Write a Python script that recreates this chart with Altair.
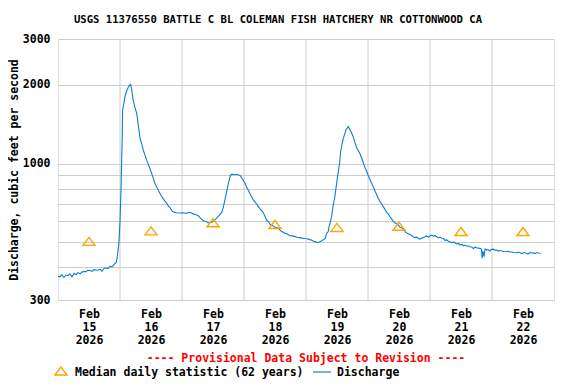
import altair as alt
import pandas as pd

TITLE = "USGS 11376550 BATTLE C BL COLEMAN FISH HATCHERY NR COTTONWOOD CA"
Y_TITLE = "Discharge, cubic feet per second"
PROVISIONAL = "---- Provisional Data Subject to Revision ----"
LEG_MEDIAN = "Median daily statistic (62 years)"
LEG_Q = "Discharge"

# hours since 2026-02-15 00:00
hours = [0.0, 0.8, 1.5, 2.3, 3.1, 3.9, 4.6, 5.4, 6.2, 7.0, 7.7, 8.5, 9.3, 10.1, 10.8, 11.6,
         12.4, 13.2, 13.9, 14.7, 15.5, 16.3, 17.0, 17.8, 18.6, 19.4, 20.1, 20.9, 21.7, 22.5,
         22.8, 23.2, 23.6, 24.0, 24.4, 24.7, 24.9, 25.0, 25.5, 25.9, 26.6, 27.2, 27.9, 28.1,
         28.5, 29.1, 29.8, 30.5, 31.1, 31.7, 32.4, 33.0, 33.7, 34.3, 35.0, 35.6, 36.3, 36.9,
         37.5, 38.2, 38.8, 39.5, 40.1, 40.8, 41.4, 42.1, 42.7, 43.4, 44.0, 44.6, 45.3, 45.9,
         47.2, 48.5, 49.5, 50.3, 51.1, 51.9, 52.6, 53.4, 54.2, 55.0, 56.1, 57.3, 58.1, 58.8,
         59.6, 60.0, 60.8, 61.4, 62.3, 63.4, 63.9, 64.3, 64.8, 65.3, 65.8, 66.3, 66.8, 67.4,
         68.1, 68.9, 69.7, 70.5, 71.0, 71.6, 72.4, 73.0, 73.7, 74.3, 75.0, 75.6, 76.3, 76.9,
         77.5, 78.2, 78.8, 79.5, 80.1, 80.8, 81.4, 82.1, 82.7, 83.3, 84.0, 84.6, 85.3, 85.9,
         86.6, 87.2, 87.9, 88.6, 89.8, 90.6, 91.0, 91.7, 92.5, 93.0, 93.7, 94.5, 95.6, 96.4,
         97.5, 98.3, 99.1, 99.5, 100.3, 100.8, 101.4, 102.1, 102.6, 103.4, 104.0, 104.6, 104.9,
         105.5, 105.9, 106.6, 107.0, 107.6, 108.0, 108.5, 109.0, 109.4, 109.9, 110.4, 111.0,
         111.5, 112.0, 112.4, 112.8, 113.3, 113.8, 114.3, 115.0, 115.6, 116.3, 116.9, 117.6,
         118.2, 118.8, 119.5, 120.1, 120.8, 121.4, 122.1, 122.7, 123.4, 124.0, 124.6, 125.3,
         125.9, 126.6, 127.2, 127.9, 128.5, 129.2, 129.8, 130.5, 131.1, 131.7, 132.4, 133.0,
         133.7, 134.3, 135.0, 135.6, 136.3, 136.9, 137.5, 138.2, 138.8, 139.5, 140.1, 140.8,
         141.4, 142.1, 142.7, 143.4, 144.0, 144.7, 145.3, 145.9, 146.6, 147.2, 147.9, 148.5,
         149.2, 149.8, 150.5, 151.1, 151.7, 152.5, 153.3, 154.3, 155.0, 155.6, 156.4, 156.9,
         157.5, 158.3, 158.8, 159.5, 160.3, 160.8, 161.4, 162.1, 162.7, 163.4, 163.9, 164.2,
         164.5, 164.9, 165.3, 165.9, 166.5, 167.2, 167.6, 168.4, 169.0, 169.8, 170.3, 171.1,
         171.9, 172.6, 173.7, 174.2, 175.0, 175.7, 176.5, 177.6, 178.1, 178.8, 179.6, 180.4,
         181.4, 181.9, 182.7, 183.5, 184.0, 184.6, 185.4, 185.9, 186.6, 186.8]

cfs = [370, 368, 375, 366, 374, 372, 378, 368, 380, 375, 382, 378, 384, 386, 385, 390,
       389, 386, 392, 391, 390, 394, 386, 396, 398, 396, 404, 402, 410, 418,
       430, 460, 500, 600, 800, 1090, 1300, 1600, 1700, 1800, 1900, 1960, 2000, 2010,
       1930, 1750, 1640, 1550, 1400, 1260, 1190, 1125, 1075, 1030, 990, 957, 915, 875,
       840, 812, 790, 768, 748, 732, 718, 705, 688, 676, 662, 653, 650, 648,
       646, 648, 645, 648, 650, 645, 640, 636, 632, 620, 605, 600, 592, 594,
       596, 600, 610, 618, 632, 650, 675, 702, 740, 782, 825, 867, 902, 910,
       906, 910, 905, 900, 885, 867, 840, 812, 790, 768, 745, 726, 712, 700,
       685, 670, 660, 648, 628, 606, 600, 585, 580, 577, 570, 568, 566, 556,
       549, 545, 540, 538, 528, 530, 526, 526, 522, 521, 520, 518, 516, 515,
       511, 508, 503, 502, 498, 498, 502, 506, 510, 516, 540, 549, 572,
       600, 627, 700, 730, 803, 860, 932, 1000, 1107, 1180, 1242, 1300,
       1350, 1370, 1385, 1360, 1330, 1300, 1262, 1200, 1150, 1120, 1090, 1045,
       1005, 965, 932, 900, 867, 840, 812, 785, 757, 735, 716, 700,
       684, 666, 650, 640, 625, 612, 600, 592, 588, 582, 570, 568,
       560, 548, 542, 538, 534, 530, 524, 520, 522, 516, 513, 518,
       520, 524, 528, 522, 530, 532, 526, 530, 524, 520, 522, 518,
       516, 508, 510, 504, 502, 498, 500, 492, 494, 488, 490, 485,
       486, 482, 484, 480, 478, 472, 478, 476, 474, 473, 470, 434,
       462, 440, 470, 466, 468, 462, 468, 470, 466, 466, 462, 464,
       462, 460, 459, 462, 458, 458, 456, 455, 458, 455, 452, 456,
       453, 450, 456, 454, 455, 452, 456, 454, 453, 453]

median_hours = [12, 36, 60, 84, 108, 132, 156, 180]
median_cfs = [503, 552, 593, 584, 569, 575, 549, 549]

label_hours = [12, 36, 60, 84, 108, 132, 156, 180]
grid_hours = [24, 48, 72, 96, 120, 144, 168]
y_ticks = [300, 400, 500, 600, 700, 800, 900, 1000, 2000, 3000]
y_labeled = [300, 1000, 2000, 3000]

FONT = "DejaVu Sans Mono"
BLUE = "#0a7fd2"
ORANGE = "#ffa500"
GRID = "#cccccc"
TRI = "M-1,0.667L0,-0.667L1,0.667Z"

q_df = pd.DataFrame({"hour": hours, "cfs": cfs})
m_df = pd.DataFrame({"hour": median_hours, "cfs": median_cfs})
g_df = pd.DataFrame({"hour": grid_hours})
one = pd.DataFrame({"k": [0]})

x_scale = alt.Scale(domain=[0, 192], nice=False, zero=False)
y_scale = alt.Scale(type="log", domain=[300, 3000], nice=False)

x_axis = alt.Axis(
    values=label_hours, grid=False, ticks=False, domain=False, title=None,
    labelExpr="['Feb', toString(floor(datum.value / 24) + 15), '2026']",
    labelFont=FONT, labelFontWeight="bold", labelFontSize=11.5, labelColor="black",
    labelLineHeight=13, labelPadding=8, labelBaseline="top",
)
cond = " || ".join(f"datum.value == {v}" for v in y_labeled)
y_axis = alt.Axis(
    values=y_ticks, grid=True, gridColor=GRID, gridWidth=1, ticks=False, domain=False,
    format="d", labelExpr=f"({cond}) ? datum.label : ''",
    labelFont=FONT, labelFontWeight="bold", labelFontSize=11.5, labelColor="black",
    labelPadding=8, title=Y_TITLE, titleFont=FONT, titleFontWeight="bold",
    titleFontSize=11.5, titleColor="black", titlePadding=3,
)

X = alt.X("hour:Q", scale=x_scale, axis=x_axis)
Y = alt.Y("cfs:Q", scale=y_scale, axis=y_axis)

grid = alt.Chart(g_df).mark_rule(color=GRID, strokeWidth=1).encode(x=X)

line = alt.Chart(q_df).mark_line(color=BLUE, strokeWidth=1.1, clip=True).encode(x=X, y=Y)

med = alt.Chart(m_df).mark_point(
    shape=TRI, size=144, filled=False, color=ORANGE, strokeWidth=1.4, opacity=1
).encode(x=X, y=Y)

prov = alt.Chart(one).mark_text(
    text=PROVISIONAL, color="#ff0000", font=FONT, fontWeight="bold", fontSize=11.5,
    align="center", baseline="middle"
).encode(x=alt.value(248), y=alt.value(320))

leg_tri = alt.Chart(one).mark_point(
    shape=TRI, size=144, filled=False, color=ORANGE, strokeWidth=1.4, opacity=1
).encode(x=alt.value(3), y=alt.value(332))

leg_med = alt.Chart(one).mark_text(
    text=LEG_MEDIAN, color="black", font=FONT, fontWeight="bold", fontSize=11.5,
    align="left", baseline="middle"
).encode(x=alt.value(17), y=alt.value(334))

leg_line = alt.Chart(one).mark_rule(color=BLUE, strokeWidth=1.2).encode(
    x=alt.value(255), x2=alt.value(273), y=alt.value(333)
)

leg_q = alt.Chart(one).mark_text(
    text=LEG_Q, color="black", font=FONT, fontWeight="bold", fontSize=11.5,
    align="left", baseline="middle"
).encode(x=alt.value(279), y=alt.value(334))

chart = alt.layer(grid, line, med, prov, leg_tri, leg_med, leg_line, leg_q).properties(
    width=496, height=261,
    title=alt.TitleParams(TITLE, anchor="middle", dx=-28, offset=7, font=FONT,
                          fontWeight="bold", fontSize=10.6, color="black"),
    autosize=alt.AutoSizeParams(type="none"),
    padding={"left": 50, "top": 31, "right": 14, "bottom": 84},
).configure_view(stroke="black", strokeWidth=1).configure(background="white")

chart.save("out.html", embed_options={"renderer": "svg", "actions": False})
